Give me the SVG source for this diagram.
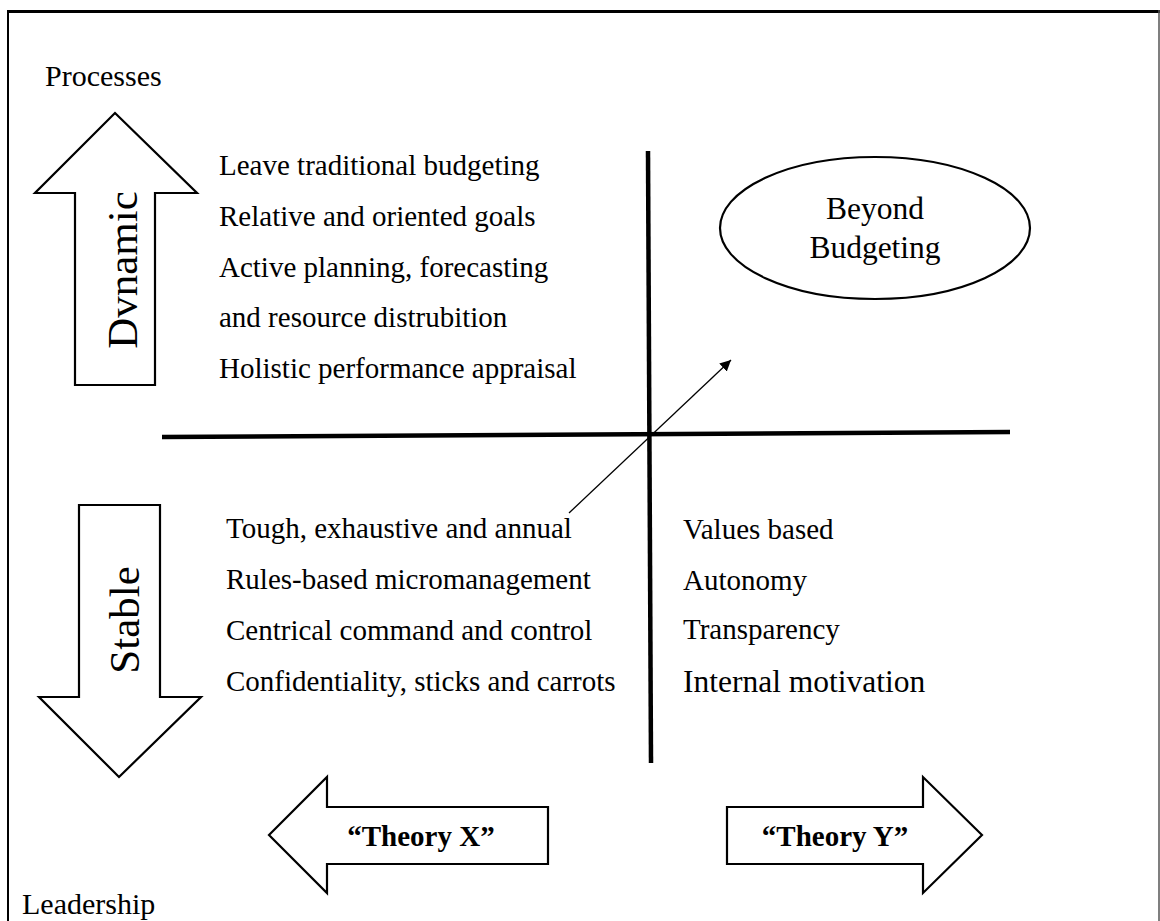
<svg xmlns="http://www.w3.org/2000/svg" width="1160" height="921" viewBox="0 0 1160 921">
  <style>
    .t { font-family: "Liberation Serif", "Times New Roman", serif; font-size: 29px; fill: #000; }
    .big { font-size: 31.5px; }
    .rot { font-family: "Liberation Serif", "Times New Roman", serif; font-size: 43px; fill: #000; }
    .bold { font-family: "Liberation Serif", "Times New Roman", serif; font-size: 29px; font-weight: bold; fill: #000; }
    .shape { fill: #fff; stroke: #000; stroke-width: 2.2; stroke-linejoin: miter; }
    .axis { stroke: #000; stroke-width: 4.5; fill: none; }
  </style>
  <defs>
    <marker id="head" viewBox="0 0 10 10" refX="10" refY="5" markerWidth="11" markerHeight="11" markerUnits="userSpaceOnUse" orient="auto">
      <path d="M0,0 L10,5 L0,10 z" fill="#000"/>
    </marker>
  </defs>
  <rect width="1160" height="921" fill="#fff"/>

  <!-- page frame -->
  <g id="frame">
    <line x1="7" y1="11.5" x2="1160" y2="11.5" stroke="#000" stroke-width="3"/>
    <line x1="8" y1="10" x2="8" y2="921" stroke="#000" stroke-width="2"/>
    <line x1="1159" y1="10" x2="1159" y2="921" stroke="#555" stroke-width="1.5"/>
  </g>

  <!-- quadrant axes and the diagonal arrow -->
  <g id="connectors">
    <line class="axis" x1="162" y1="437" x2="1010" y2="432"/>
    <line class="axis" x1="648" y1="151" x2="651" y2="763"/>
    <line x1="569" y1="513" x2="731" y2="360" stroke="#000" stroke-width="1.3" marker-end="url(#head)"/>
  </g>

  <g id="label-processes">
    <text class="t" x="45" y="86" style="font-size:30px">Processes</text>
  </g>
  <g id="label-leadership">
    <text class="t" x="22" y="914" style="font-size:30px">Leadership</text>
  </g>

  <g id="arrow-dynamic">
    <polygon class="shape" points="115,113 197,193 155,193 155,385 75,385 75,193 35,193"/>
    <text class="rot" transform="translate(137,270) rotate(-90)" text-anchor="middle">Dvnamic</text>
  </g>

  <g id="arrow-stable">
    <polygon class="shape" points="79,505 160,505 160,697 201,697 119,777 39,697 79,697"/>
    <text class="rot" transform="translate(139,620) rotate(-90)" text-anchor="middle">Stable</text>
  </g>

  <g id="list-dynamic">
    <text class="t" x="219" y="175">Leave traditional budgeting</text>
    <text class="t" x="219" y="226">Relative and oriented goals</text>
    <text class="t" x="219" y="277">Active planning, forecasting</text>
    <text class="t" x="219" y="327">and resource distrubition</text>
    <text class="t" x="219" y="378">Holistic performance appraisal</text>
  </g>

  <g id="list-stable">
    <text class="t" x="226" y="538">Tough, exhaustive and annual</text>
    <text class="t" x="226" y="589">Rules-based micromanagement</text>
    <text class="t" x="226" y="640">Centrical command and control</text>
    <text class="t" x="226" y="691">Confidentiality, sticks and carrots</text>
  </g>

  <g id="list-values">
    <text class="t" x="683" y="539">Values based</text>
    <text class="t" x="683" y="590">Autonomy</text>
    <text class="t" x="683" y="639">Transparency</text>
    <text class="t big" x="683" y="692">Internal motivation</text>
  </g>

  <g id="beyond-budgeting">
    <ellipse class="shape" cx="875" cy="228" rx="155" ry="71"/>
    <text class="t big" x="875" y="219" text-anchor="middle">Beyond</text>
    <text class="t big" x="875" y="258" text-anchor="middle">Budgeting</text>
  </g>

  <g id="theory-x">
    <polygon class="shape" points="269,835 327,777 327,807 548,807 548,864 327,864 327,893"/>
    <text class="bold" x="421" y="846" text-anchor="middle">“Theory X”</text>
  </g>

  <g id="theory-y">
    <polygon class="shape" points="982,835 923,777 923,807 727,807 727,864 923,864 923,893"/>
    <text class="bold" x="835" y="846" text-anchor="middle">“Theory Y”</text>
  </g>
</svg>
